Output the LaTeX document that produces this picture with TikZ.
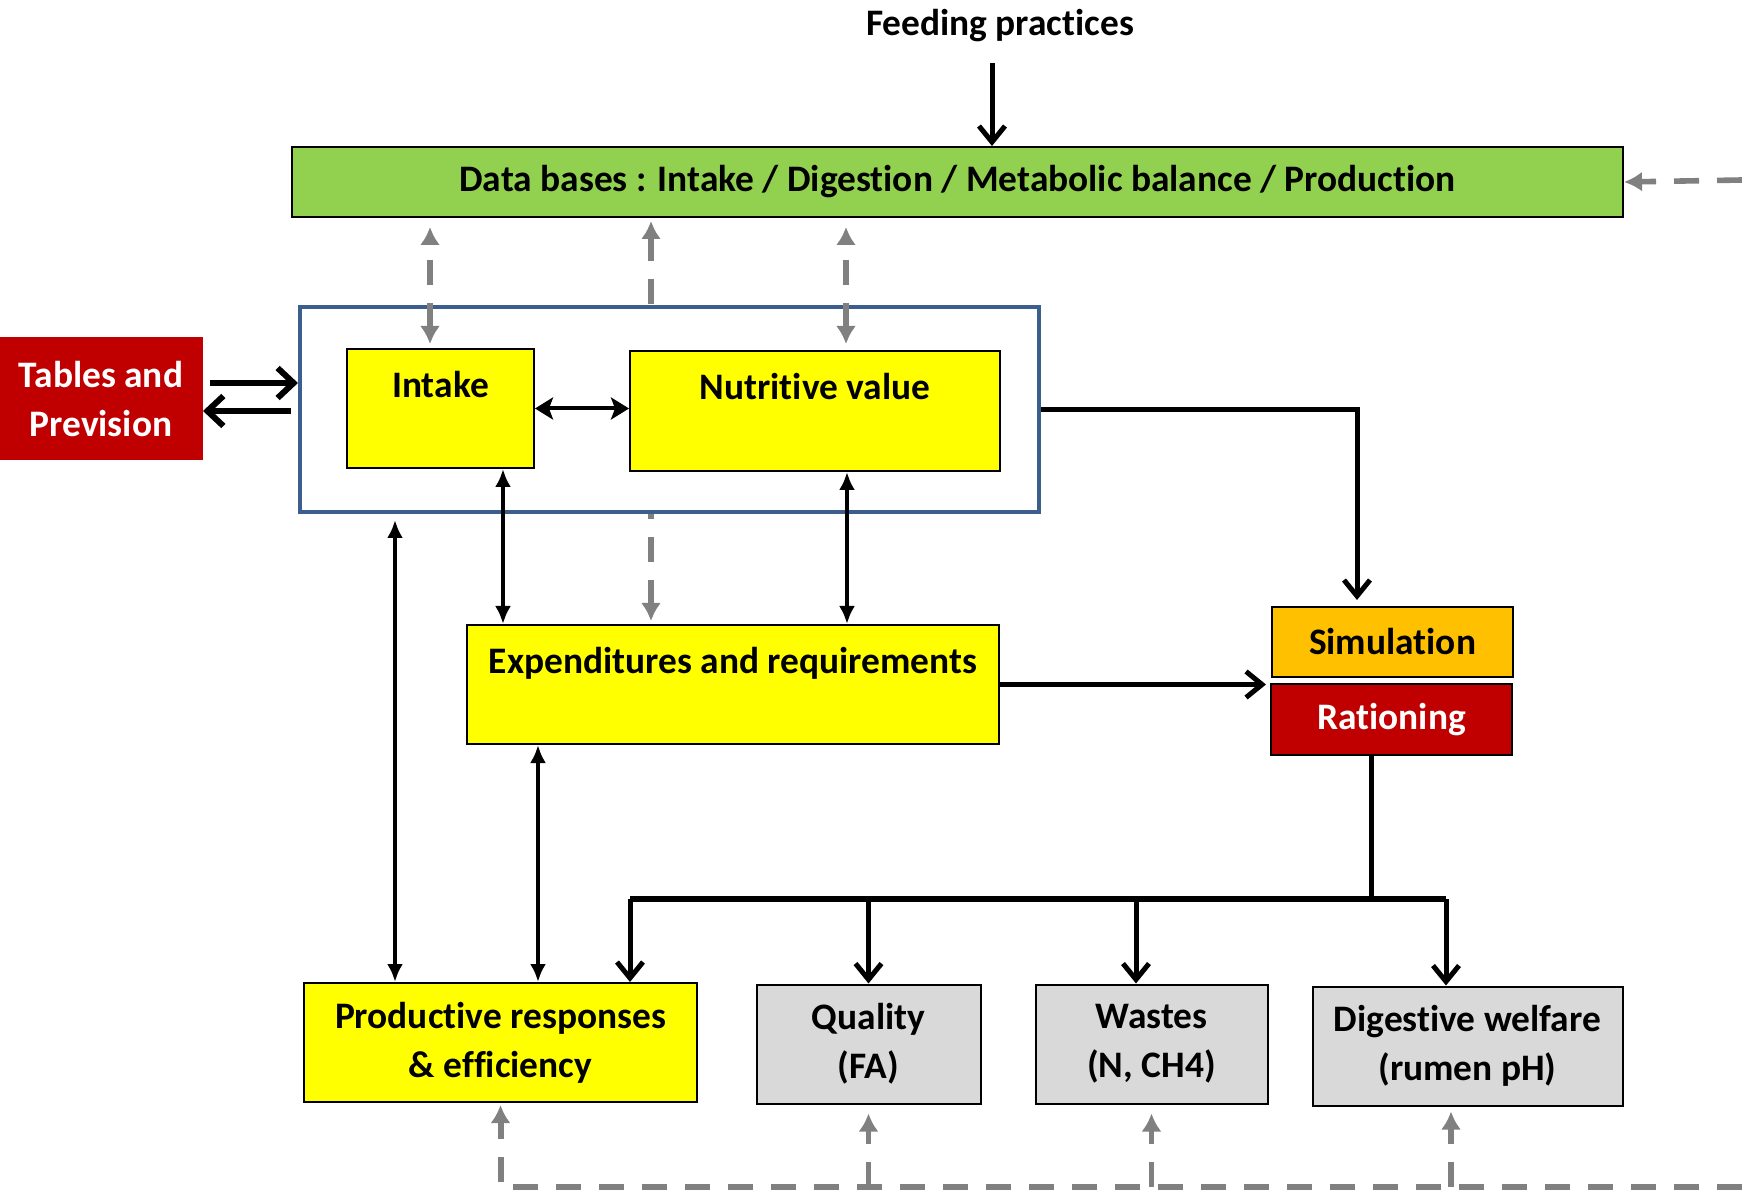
\documentclass[tikz,border=0pt]{standalone}
\usepackage{fontspec}
\setmainfont{Carlito}[Ligatures=NoCommon]
\usetikzlibrary{positioning, arrows.meta, calc, backgrounds}

\definecolor{dbgreen}{HTML}{92D050}
\definecolor{boxyellow}{HTML}{FFFF00}
\definecolor{simorange}{HTML}{FFC000}
\definecolor{darkred}{HTML}{C00000}
\definecolor{outgray}{HTML}{D9D9D9}
\definecolor{frameblue}{HTML}{3B5E8C}
\definecolor{linkgray}{HTML}{808080}

\begin{document}
\begin{tikzpicture}[
    x=0.5pt, y=-0.5pt,
    font=\bfseries\fontsize{18.7}{24.5}\selectfont,
    box/.style={rectangle, draw=black, line width=1pt, inner sep=0pt, align=center},
    ybox/.style={box, fill=boxyellow},
    obox/.style={box, fill=outgray},
    toptext/.style={label={[anchor=base, yshift=-25pt]north:#1}},
    bigarrow/.style={-{Straight Barb[length=8pt,width=13pt]}, line width=2.5pt},
    bigline/.style={line width=2.5pt},
    dblarrow/.style={{Latex[length=9pt,width=8pt]}-{Latex[length=9pt,width=8pt]}, line width=1.8pt},
    tabarrow/.style={-{Straight Barb[length=8pt,width=15pt]}, line width=3pt},
    grayarrow/.style={-{Latex[length=9pt,width=10pt]}, draw=linkgray, line width=2.8pt, dash pattern=on 12.5pt off 9pt},
    graydbl/.style={grayarrow, {Latex[length=9pt,width=10pt]}-{Latex[length=9pt,width=10pt]}}
]
\useasboundingbox (0,0) rectangle (1742,1192);

% top
\node (feed) at (1000,26) {Feeding practices};
\node[box, fill=dbgreen, minimum width=665.5pt, minimum height=35pt] (db) at (957.5,182)
    {Data bases : Intake / Digestion / Metabolic balance / Production};

% model block
\node[draw=frameblue, line width=2pt, fill=white, minimum width=369.5pt, minimum height=102.5pt] (model) at (669.5,409.5) {};
\node[box, draw=darkred, fill=darkred, text=white, minimum width=101pt, minimum height=60.5pt] (tables) at (101,399) {Tables and\\Prevision};
\node[ybox, minimum width=93.5pt, minimum height=59.5pt, toptext=Intake] (intake) at (440.5,408.5) {};
\node[ybox, minimum width=185pt, minimum height=60pt, toptext=Nutritive value] (nutri) at (815,411) {};
\node[ybox, minimum width=266pt, minimum height=59.5pt, toptext=Expenditures and requirements] (expend) at (733,684.5) {};

% simulation / rationing
\node[box, fill=simorange, minimum width=120.5pt, minimum height=35pt] (simul) at (1392.5,642) {Simulation};
\node[box, fill=darkred, text=white, minimum width=120.5pt, minimum height=35.5pt] (ration) at (1391.5,719.5) {Rationing};

% outputs
\node[ybox, minimum width=196.5pt, minimum height=59.5pt] (prod) at (500.5,1042.5) {Productive responses\\\& efficiency};
\node[obox, minimum width=112pt, minimum height=59.5pt] (quality) at (868.5,1044) {Quality\\(FA)};
\node[obox, minimum width=116pt, minimum height=59.5pt] (wastes) at (1151.5,1044) {Wastes\\(N, CH4)};
\node[obox, minimum width=155pt, minimum height=59.5pt] (welfare) at (1467.5,1046) {Digestive welfare\\(rumen pH)};

\coordinate (xf) at (992,0);
\coordinate (xa) at (430,0);
\coordinate (xb) at (651,0);
\coordinate (xc) at (846,0);
\coordinate (xi) at (503,0);
\coordinate (xn) at (847,0);
\coordinate (xm) at (395,0);
\coordinate (xe) at (538,0);
\coordinate (xs) at (1357,0);
\coordinate (xr) at (1371,0);
\coordinate (xw) at (1136,0);
\coordinate (xd) at (1451,0);
\coordinate (ty1) at (0,383);
\coordinate (ty2) at (0,411);
\coordinate (barL) at (630,899);
\coordinate (barR) at (1446,899);
\coordinate (edgeR) at (1742,180);
\coordinate (edgeB) at (1742,1187);

% data base links
\begin{scope}[on background layer]
    \draw[graydbl, shorten <=1.5pt, shorten >=1.5pt] (expend.north -| xb) -- (db.south -| xb);
\end{scope}
\draw[graydbl, shorten <=2pt, shorten >=4.5pt] (intake.north -| xa) -- (db.south -| xa);
\draw[graydbl, shorten <=3pt, shorten >=4.5pt] (nutri.north -| xc) -- (db.south -| xc);
\draw[grayarrow] (edgeR) -- (db.east);

% black links
\draw[bigarrow, shorten <=7pt] (feed.south -| xf) -- (db.north -| xf);
\draw[tabarrow, shorten <=3.5pt] (tables.east |- ty1) -- (model.west |- ty1);
\draw[tabarrow, shorten <=3.5pt] (model.west |- ty2) -- (tables.east |- ty2);
\draw[{Stealth[length=9pt,width=11pt,inset=2pt]}-{Stealth[length=9pt,width=11pt,inset=2pt]}, line width=2pt]
    (intake.east) -- (nutri.west |- intake.east);
\draw[bigarrow, shorten >=3pt] (model.east) -| (xs |- simul.north);
\draw[bigarrow, shorten >=2pt] (expend.east) -- (expend.east -| ration.west);
\draw[dblarrow] (intake.south -| xi) -- (expend.north -| xi);
\draw[dblarrow] (nutri.south -| xn) -- (expend.north -| xn);
\draw[dblarrow, shorten <=3pt] (model.south -| xm) -- (prod.north -| xm);
\draw[dblarrow] (expend.south -| xe) -- (prod.north -| xe);

% rationing outputs
\draw[bigline] (ration.south -| xr) -- (barR -| xr);
\draw[line width=3pt] (barL) -- (barR);
\draw[bigarrow] (barL) -- (prod.north -| barL);
\draw[bigarrow] (barL -| quality) -- (quality.north);
\draw[bigarrow] (barL -| xw) -- (wastes.north -| xw);
\draw[bigarrow] (barR) -- (welfare.north -| barR);

% feedback
\draw[grayarrow, line width=3pt, shorten >=1pt] (edgeB) -| (prod.south);
\draw[grayarrow, shorten >=4.5pt] (edgeB -| quality) -- (quality.south);
\draw[grayarrow, shorten >=4.5pt] (edgeB -| wastes) -- (wastes.south);
\draw[grayarrow, shorten >=2.5pt] (edgeB -| xd) -- (welfare.south -| xd);
\end{tikzpicture}
\end{document}
